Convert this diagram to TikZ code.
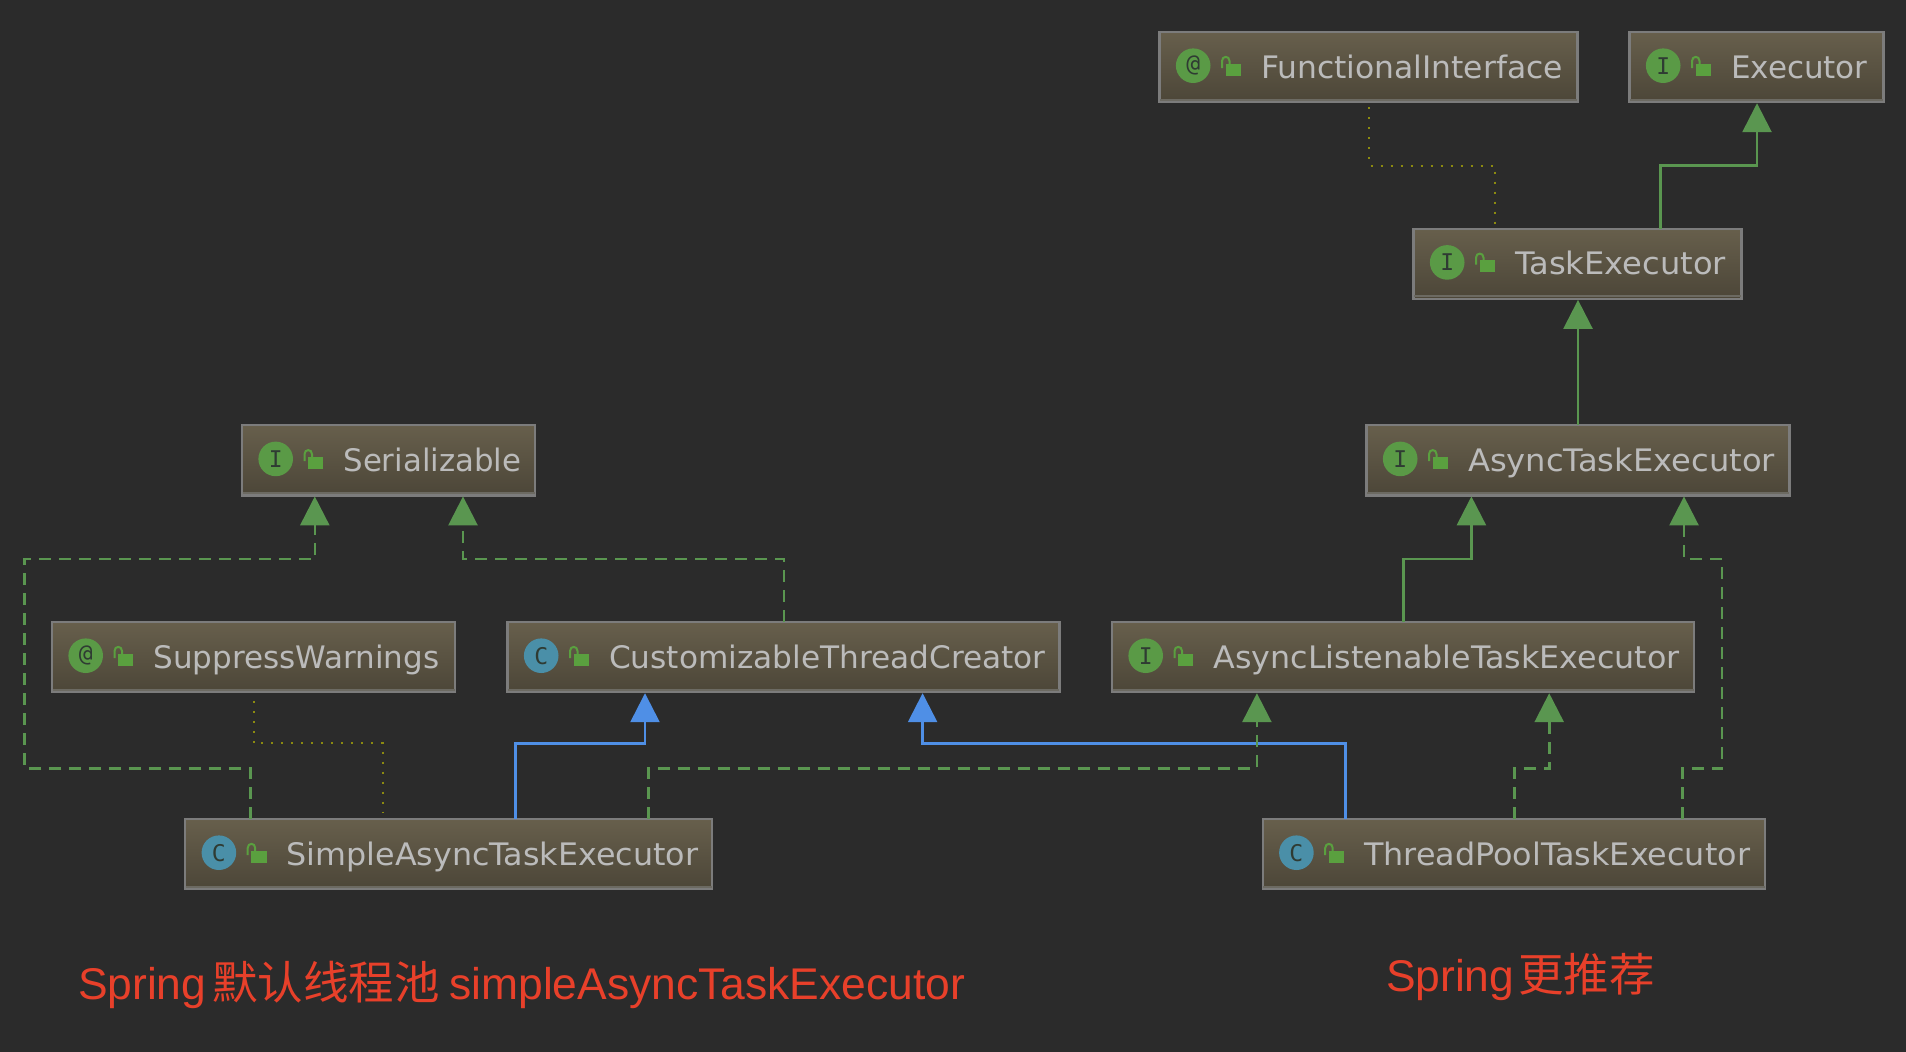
\documentclass[tikz,border=0pt]{standalone}
\usepackage{graphicx}
\usepackage{fontspec}
\setmainfont{DejaVu Sans}
\setmonofont{DejaVu Sans Mono}
\newfontfamily\redlat{Liberation Sans}
\newfontfamily\redcjk{Noto Sans CJK SC}
\usetikzlibrary{arrows.meta,calc}
\definecolor{bgc}{HTML}{2B2B2B}
\definecolor{boxtop}{HTML}{675F4C}
\definecolor{boxbot}{HTML}{4C4638}
\definecolor{boxedge}{HTML}{7C7C7C}
\definecolor{boxbar}{HTML}{6C6A62}
\definecolor{txtc}{HTML}{BBBBBB}
\definecolor{icongreen}{HTML}{5A9A46}
\definecolor{iconblue}{HTML}{4A8FA8}
\definecolor{icontxt}{HTML}{2F3B33}
\definecolor{lockc}{HTML}{5AA03F}
\definecolor{extc}{HTML}{5A9650}
\definecolor{blueln}{HTML}{4F8FE6}
\definecolor{dotc}{HTML}{8C8A10}
\definecolor{redt}{HTML}{E8402A}
\tikzset{
  umlbox/.style={draw=boxedge,line width=2.2pt,top color=boxtop,bottom color=boxbot,inner sep=0pt,outer sep=0pt,anchor=north west,text=txtc,font=\fontsize{31}{31}\selectfont},
  iconnode/.style={circle,minimum size=34.6pt,inner sep=0pt,outer sep=0pt,text=icontxt,font=\ttfamily\fontsize{23}{23}\selectfont},
  lockfill/.style={fill=lockc},
  lockarc/.style={draw=lockc,line width=2pt},
  barline/.style={draw=boxbar,line width=2pt},
  inherit/.style={line width=2.6pt,-{Triangle[length=29pt,width=29pt]},shorten >=1pt},
  extline/.style={inherit,draw=extc},
  implline/.style={extline,dash pattern=on 12pt off 8pt},
  blueline/.style={inherit,draw=blueln},
  dotline/.style={draw=dotc,line width=2pt,dash pattern=on 2pt off 8pt},
  redlabel/.style={text=redt,inner sep=0pt,outer sep=0pt,anchor=base west,font=\fontsize{44.4}{45}\selectfont}
}
\newcommand\xs[2]{\scalebox{#1}[1]{#2}}
% name, x, y, width, icon colour, icon letter, label
\newcommand\umlnode[7]{%
  \node[umlbox] (#1) at (#2,#3) {\makebox[#4pt][l]{\hspace{101.5pt}\rule[-24.2pt]{0pt}{70.2pt}#7}};
  \draw[barline] ([shift={(0.5,-2.5)}]#1.south west) -- ([shift={(-0.5,-2.5)}]#1.south east);
  \node[iconnode,fill=#5] (#1-icon) at ([shift={(33.7,33.7)}]#1.north west) {#6};
  \begin{scope}[shift={(#1.north west)}]
    \fill[lockfill] (66,31.5) rectangle (81.3,43.7);
    \draw[lockarc] (62.5,36) -- (62.5,29) .. controls (62.5,23.5) and (70,23.5) .. (70,29) -- (70,32);
  \end{scope}
}
\begin{document}
\begin{tikzpicture}[x=1pt,y=-1pt]
\useasboundingbox (0,0) rectangle (1906,1052);
\fill[bgc] (0,0) rectangle (1906,1052);

\umlnode{funci}{1159.5}{32}{418}{icongreen}{@}{\xs{1.012}{FunctionalInterface}}
\umlnode{exec}{1629.5}{32}{254}{icongreen}{I}{Executor}
\umlnode{task}{1413.5}{228.7}{328}{icongreen}{I}{\xs{1.036}{TaskExecutor}}
\umlnode{async}{1366.5}{425.2}{423}{icongreen}{I}{\xs{1.037}{AsyncTaskExecutor}}
\umlnode{serial}{242}{425.2}{293}{icongreen}{I}{\xs{.993}{Serializable}}
\umlnode{suppress}{52}{622}{403}{icongreen}{@}{SuppressWarnings}
\umlnode{custom}{507.5}{622}{552}{iconblue}{C}{\xs{1.006}{CustomizableThreadCreator}}
\umlnode{listen}{1112}{622}{582}{icongreen}{I}{\xs{1.024}{AsyncListenableTaskExecutor}}
\umlnode{simple}{185.2}{819}{527}{iconblue}{C}{\xs{1.024}{SimpleAsyncTaskExecutor}}
\umlnode{pool}{1262.7}{819}{502.5}{iconblue}{C}{\xs{1.026}{ThreadPoolTaskExecutor}}

% generalisation in blue
\draw[blueline] (simple.north -| 515.3,0) |- (645,743.3) -- (custom.south -| 645,0);
\draw[blueline] (pool.north -| 1345.4,0) |- (922.6,743.3) -- (custom.south -| 922.6,0);
% solid extends
\draw[extline] (task.north -| 1660.3,0) |- (1757,165.7) -- (exec.south -| 1757,0);
\draw[extline] (async.north -| 1578,0) -- (task.south -| 1578,0);
\draw[extline] (listen.north -| 1403.6,0) |- (1471.4,559) -- (async.south -| 1471.4,0);
% dashed implements
\draw[implline] (pool.north -| 1682.5,0) |- (1722,768.3) |- (1684,559) -- (async.south -| 1684,0);
\draw[implline] (pool.north -| 1514.5,0) |- (1549.2,768.3) -- (listen.south -| 1549.2,0);
\draw[implline] (simple.north -| 648.6,0) |- (1256.9,768.3) -- (listen.south -| 1256.9,0);
\draw[implline] (simple.north -| 250.6,0) |- (24.7,768.3) |- (314.8,559) -- (serial.south -| 314.8,0);
\draw[implline] (custom.north -| 784,0) |- (463,559) -- (serial.south -| 463,0);
% dotted annotations
\draw[dotline] ([yshift=-5]funci.south -| 1369,0) |- (1494.7,165.7) -- ([yshift=5]task.north -| 1494.7,0);
\draw[dotline] ([yshift=-9]suppress.south -| 253.5,0) |- (383,743.3) -- ([yshift=6]simple.north -| 383,0);

\node[redlabel] (note1) at (78,999) {\redlat Spring\hspace{6pt}{\redcjk\fontsize{45.5}{45}\selectfont 默认线程池}\hspace{9.5pt}simpleAsyncTaskExecutor};
\node[redlabel] (note2) at (1386,991) {\redlat Spring\hspace{4pt}{\redcjk\fontsize{45.5}{45}\selectfont 更推荐}};
\end{tikzpicture}
\end{document}
